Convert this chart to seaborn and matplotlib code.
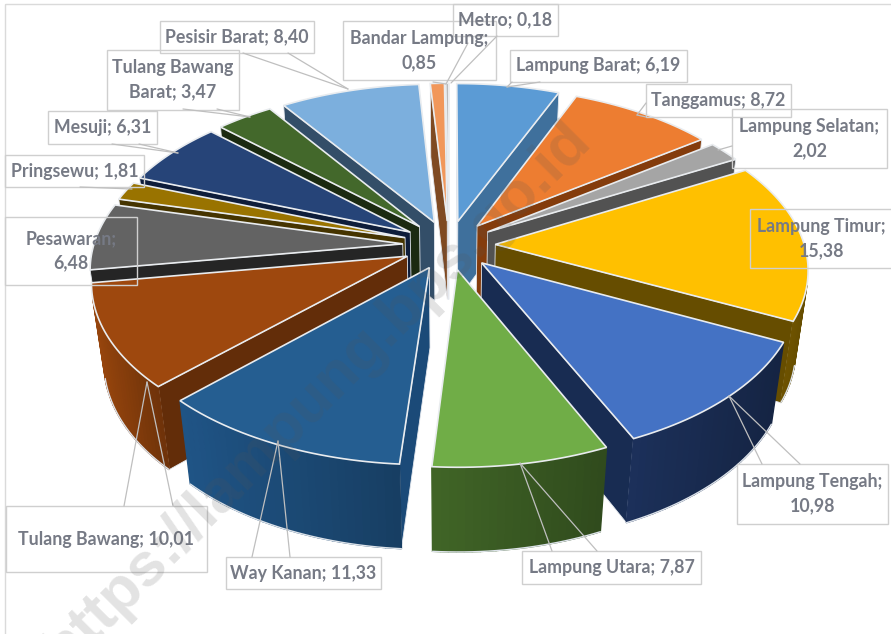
import numpy as np
import matplotlib
matplotlib.use("Agg")
import matplotlib.pyplot as plt
from matplotlib.patches import Polygon, Rectangle
import seaborn as sns

regions = ["Lampung Barat", "Tanggamus", "Lampung Selatan", "Lampung Timur", "Lampung Tengah",
           "Lampung Utara", "Way Kanan", "Tulang Bawang", "Pesawaran", "Pringsewu",
           "Mesuji", "Tulang Bawang Barat", "Pesisir Barat", "Bandar Lampung", "Metro"]
shares = [6.19, 8.72, 2.02, 15.38, 10.98, 7.87, 11.33, 10.01, 6.48, 1.81, 6.31, 3.47, 8.40, 0.85, 0.18]

top_colors = ["#5B9BD5", "#ED7D31", "#A5A5A5", "#FFC000", "#4472C4", "#70AD47", "#255E91", "#9E480E",
              "#636363", "#997300", "#264478", "#43682B", "#7CAFDD", "#F1975A", "#B7B7B7"]
cut_colors = ["#3F709C", "#843C0C", "#525252", "#664D00", "#182C52", "#2E4A1C", "#1B4A78", "#632D09",
              "#252525", "#453400", "#0E1D3A", "#1B2A11", "#334E68", "#7F4A22", "#6E6E6E"]
wall_colors = ["#41719C", "#A9581F", "#6E6E6E", "#7F6000", "#1A2D54", "#3C5E24", "#1D4E7C", "#8C400C",
               "#404040", "#6B5200", "#1B3054", "#2F4A1E", "#466F96", "#AD6A3C", "#808080"]

# label boxes in pixels: left, top, right, bottom
boxes = [(510, 50, 687, 82), (646, 84, 791, 117), (732, 109, 887, 168), (750, 209, 893, 268),
         (737, 464, 888, 524), (522, 551, 701, 584), (226, 557, 381, 589), (6, 506, 207, 572),
         (5, 217, 137, 285), (5, 155, 144, 187), (48, 111, 157, 144), (107, 50, 239, 110),
         (160, 21, 314, 53), (343, 21, 496, 80), (453, 4, 558, 36)]
# leader lines: rim point then the box ends
leaders = [((507, 87), [(540, 82), (512, 82)]), ((637, 115), [(646, 103), (646, 117)]),
           ((718, 150), [(732, 146)]), ((750, 240), [(750, 240)]),
           ((729, 396), [(762, 464), (800, 464)]), ((520, 463), [(552, 551), (597, 551)]),
           ((278, 441), [(252, 557), (290, 557)]), ((147, 382), [(124, 506), (173, 506)]),
           ((137, 250), [(137, 250)]), ((132, 189), [(80, 187)]), ((178, 153), [(112, 144), (139, 144)]),
           ((250, 117), [(183, 109), (217, 109)]), ((348, 89), [(243, 53), (288, 53)]),
           ((446, 84), [(433, 82), (468, 43)]), ((451, 83), [(497, 36)])]
two_line = {"Lampung Selatan": "sep", "Lampung Timur": "sep", "Lampung Tengah": "sep",
            "Pesawaran": "sep", "Bandar Lampung": "sep", "Tulang Bawang Barat": "name"}

# projection settings, picked by eye against the reference
cx, cy = 449, 245
rx, ry = 309, 163
persp, shrink = 0.138, 0.035
depth = 82
explode = 0.15


def project(u, v, z):
    s = 1 / (1 - persp * v + shrink * z)
    return cx + rx * u * s, cy + ry * v * s + depth * z * s


def signed_area(pts):
    x, y = np.array(pts).T
    return np.sum(x * np.roll(y, -1) - np.roll(x, -1) * y)


sns.set_theme(style="white")
plt.rcParams["font.family"] = ["Lato", "DejaVu Sans"]

fig, ax = plt.subplots(figsize=(8.91, 6.34), dpi=100)
ax.set_position([0, 0, 1, 1])
ax.set_xlim(0, 891)
ax.set_ylim(634, 0)
ax.axis("off")
ax.add_patch(Rectangle((5, 4), 1000, 1000, fill=False, ec="#DADADA", lw=1, zorder=0))

edges = np.cumsum([0] + shares) / np.sum(shares) * 2 * np.pi
mids = (edges[:-1] + edges[1:]) / 2

# back slices first so the front ones paint over them
for i in np.argsort(-np.cos(mids)):
    th = np.linspace(edges[i], edges[i + 1], max(4, int(shares[i] * 3)))
    ou, ov = explode * np.sin(mids[i]), -explode * np.cos(mids[i])
    rim_u, rim_v = ou + np.sin(th), ov - np.cos(th)
    apex_top, apex_bot = project(ou, ov, 0), project(ou, ov, 1)
    rim_top = [project(a, b, 0) for a, b in zip(rim_u, rim_v)]
    rim_bot = [project(a, b, 1) for a, b in zip(rim_u, rim_v)]

    # the two cut faces
    for quad in ([apex_top, rim_top[0], rim_bot[0], apex_bot], [rim_top[-1], apex_top, apex_bot, rim_bot[-1]]):
        if signed_area(quad) < 0:
            ax.add_patch(Polygon(quad, fc=cut_colors[i], ec="#E4E8EE", lw=0.6, zorder=2))

    # outer wall, darkening towards the right
    base = np.array(matplotlib.colors.to_rgb(wall_colors[i]))
    xs = np.array([p[0] for p in rim_top])
    for k in range(len(th) - 1):
        quad = [rim_top[k], rim_top[k + 1], rim_bot[k + 1], rim_bot[k]]
        if signed_area(quad) < 0:
            t = (xs[k] - xs.min()) / max(xs.max() - xs.min(), 1)
            col = np.clip(base * (1.08 - 0.28 * t), 0, 1)
            ax.add_patch(Polygon(quad, fc=col, ec=col, lw=1, zorder=2))
    visible = [signed_area([rim_top[k], rim_top[k + 1], rim_bot[k + 1], rim_bot[k]]) < 0 for k in range(len(th) - 1)]
    if any(visible):
        seg = [rim_bot[k] for k in range(len(th) - 1) if visible[k]] + [rim_bot[len(th) - 1 - visible[::-1].index(True)]]
        ax.plot(*zip(*seg), color="#DDE3EA", lw=1, zorder=2)
    ax.add_patch(Polygon([apex_top] + rim_top, fc=top_colors[i], ec="#E9ECEF", lw=1.2, zorder=2))

for name, share, box, (tip, ends) in zip(regions, shares, boxes, leaders):
    left, top, right, bottom = box
    ax.add_patch(Rectangle((left, top), right - left, bottom - top, fill=False, ec="#CFCFCF", lw=1, zorder=3))
    for end in ends:
        ax.plot([tip[0], end[0]], [tip[1], end[1]], color="#BFBFBF", lw=0.9, zorder=3)
    value = f"{share:.2f}".replace(".", ",")
    if two_line.get(name) == "sep":
        label = f"{name};\n{value}"
    elif two_line.get(name) == "name":
        label = f"Tulang Bawang\nBarat; {value}"
    else:
        label = f"{name}; {value}"
    ax.text((left + right) / 2, (top + bottom) / 2, label, ha="center", va="center", color="#767A85",
            fontsize=12.8, fontweight="bold", linespacing=1.5, zorder=4)

ax.text(318, 395, "https://lampung.bps.go.id", rotation=45, rotation_mode="anchor", ha="center", va="center",
        fontsize=44, fontweight="bold", family="Liberation Sans", color="#555555", alpha=0.17, zorder=5)

fig.savefig("out.png", dpi=100)
